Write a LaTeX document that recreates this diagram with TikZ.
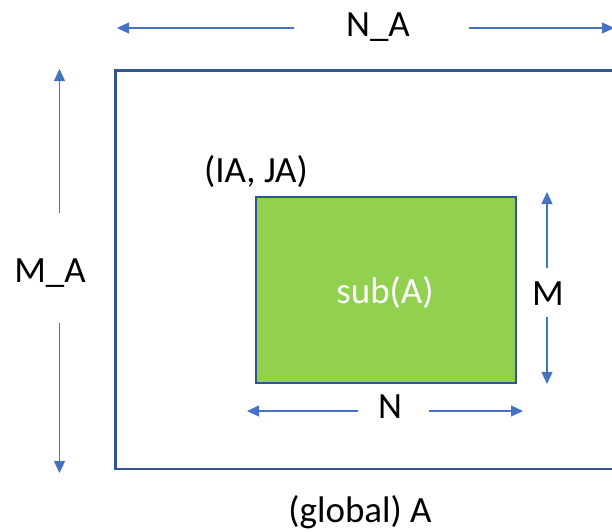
\documentclass[tikz,border=0pt]{standalone}
\usepackage{fontspec}
\setmainfont{Carlito}
\usetikzlibrary{arrows.meta}
\definecolor{frameblue}{HTML}{2F5597}
\definecolor{arrowblue}{HTML}{4472C4}
\definecolor{subgreen}{HTML}{92D050}
\tikzset{
  lbl/.style={anchor=base, inner sep=0pt, font=\fontsize{37}{44}\selectfont},
  dimarrow/.style={draw=arrowblue, line width=1.1pt, -{Triangle[length=12pt,width=11pt]}},
}
\begin{document}
\begin{tikzpicture}[x=1pt,y=-1pt]
\useasboundingbox (0,0) rectangle (612,531);
\clip (0,0) rectangle (612,531);
% outer matrix
\draw[frameblue, line width=2.6pt] (115.5,70.5) rectangle (660,469);
% sub matrix
\node[draw=frameblue, fill=subgreen, line width=1.8pt, minimum width=260pt, minimum height=186pt, inner sep=0pt] (sub) at (386,290) {};
\node[lbl, text=white] (subl) at (385,303) {sub(A)};
% labels
\node[lbl] (NA) at (378,36) {N\_A};
\node[lbl] (MA) at (50,282) {M\_A};
\node[lbl] (IJ) at (256,182) {(IA, JA)};
\node[lbl] (M) at (548,305) {M};
\node[lbl] (N) at (390,418) {N};
\node[lbl] (glob) at (360,522) {(global) A};
% arrow coordinates
\coordinate (naL0) at (294,28); \coordinate (naL1) at (117,28);
\coordinate (naR0) at (469,28); \coordinate (naR1) at (614,28);
\coordinate (maU0) at (59.5,213); \coordinate (maU1) at (59.5,69);
\coordinate (maD0) at (59.5,323); \coordinate (maD1) at (59.5,473);
\coordinate (mU0) at (547,268); \coordinate (mU1) at (547,192);
\coordinate (mD0) at (547,317); \coordinate (mD1) at (547,384);
\coordinate (nL0) at (358,411); \coordinate (nL1) at (247,411);
\coordinate (nR0) at (429,411); \coordinate (nR1) at (523,411);
\draw[dimarrow] (naL0) -- (naL1);
\draw[dimarrow] (naR0) -- (naR1);
\draw[dimarrow] (maU0) -- (maU1);
\draw[dimarrow] (maD0) -- (maD1);
\draw[dimarrow] (mU0) -- (mU1);
\draw[dimarrow] (mD0) -- (mD1);
\draw[dimarrow] (nL0) -- (nL1);
\draw[dimarrow] (nR0) -- (nR1);
\end{tikzpicture}
\end{document}
